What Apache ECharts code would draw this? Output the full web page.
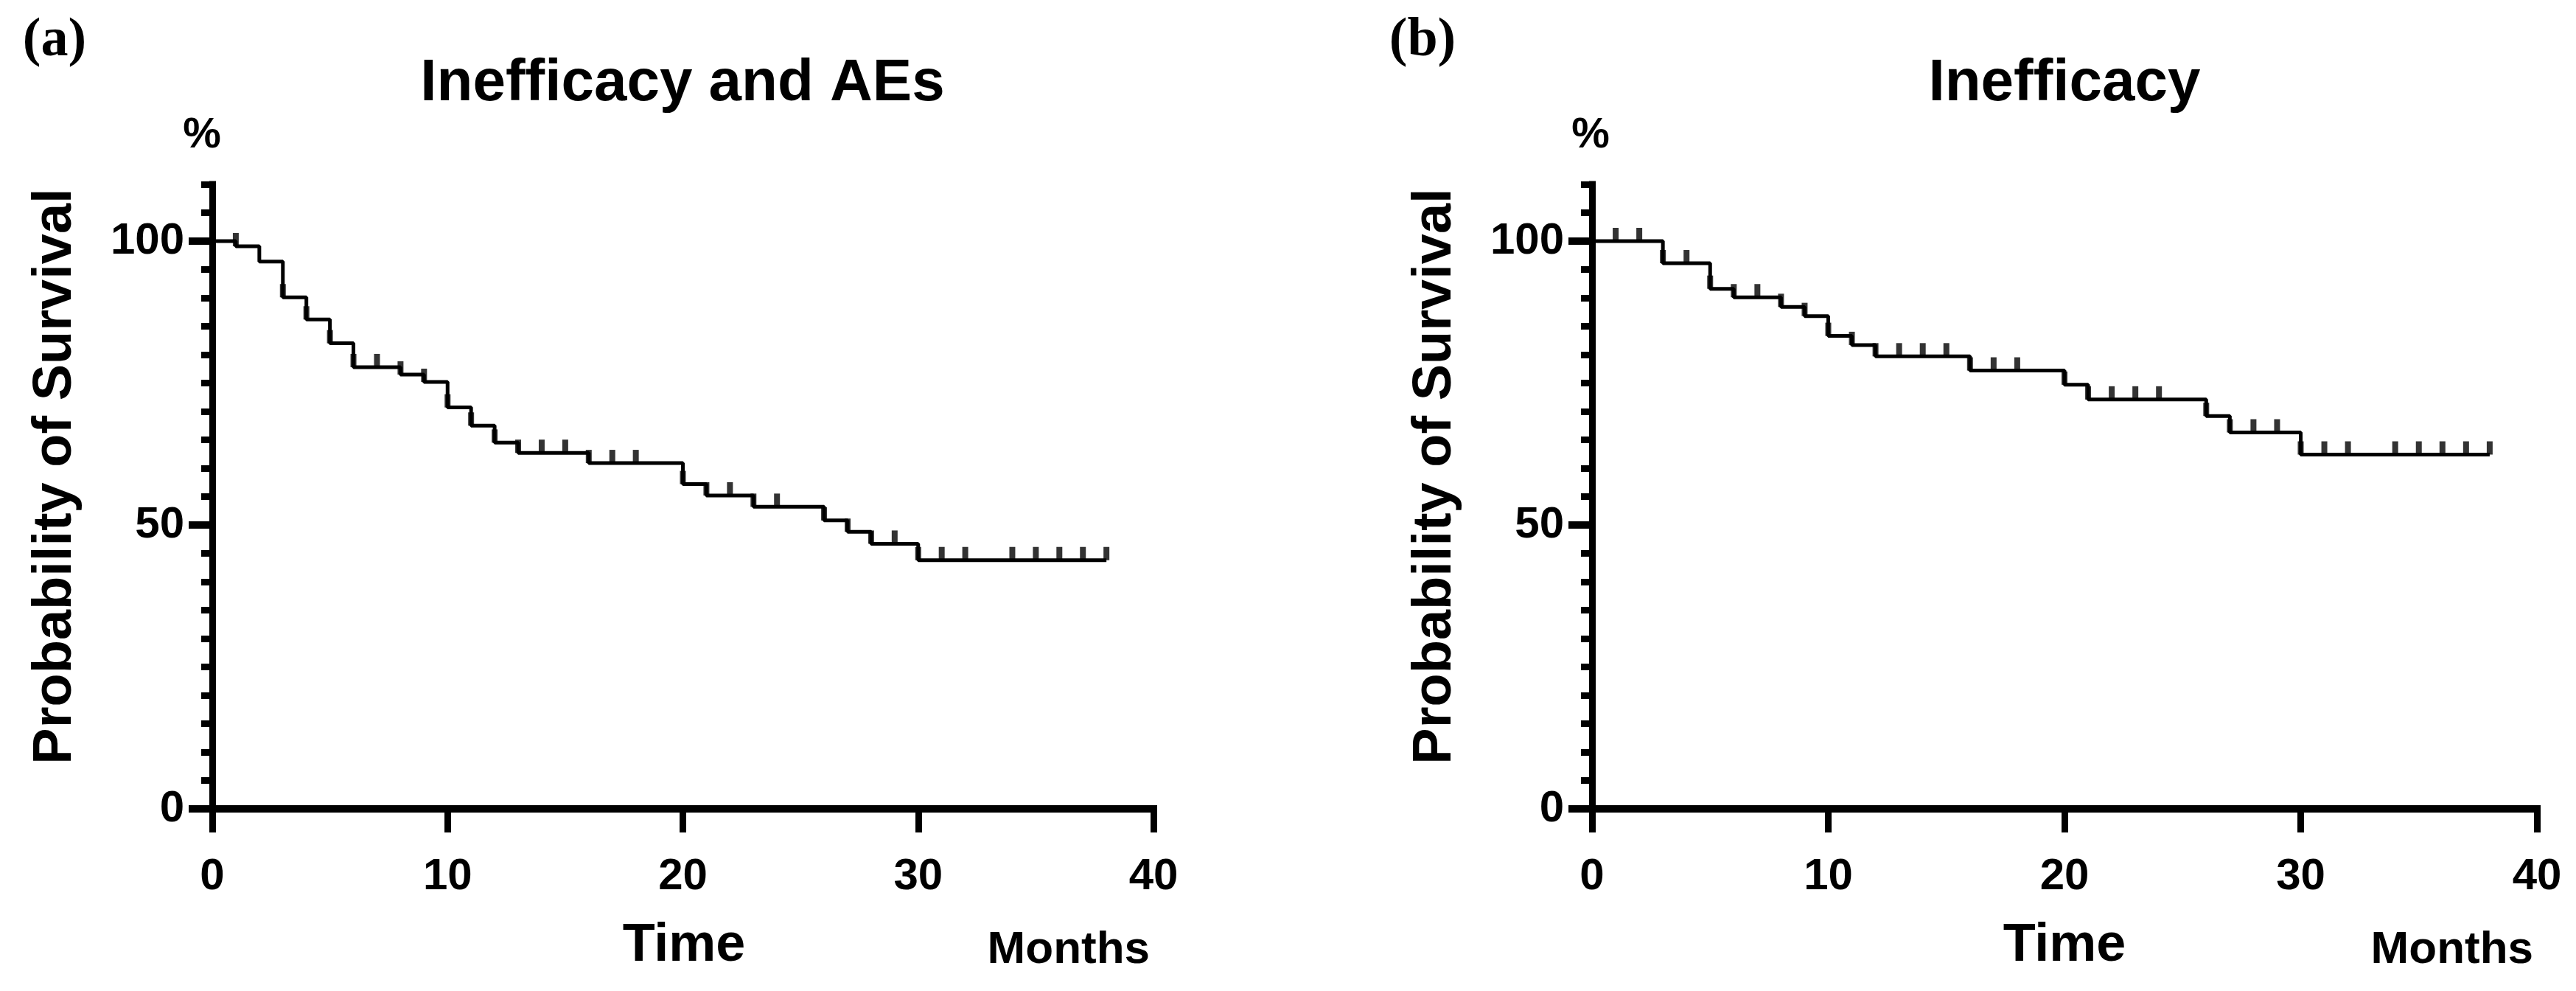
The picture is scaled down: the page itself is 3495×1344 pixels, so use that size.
<!DOCTYPE html>
<html><head><meta charset="utf-8">
<script src="https://cdn.jsdelivr.net/npm/echarts@6/dist/echarts.min.js"></script>
<style>html,body{margin:0;padding:0;background:#fff}#c{width:3495px;height:1344px}</style>
</head><body><div id="c"></div>
<script>
// ---- data ----
const xTicks = [0, 10, 20, 30, 40];
const yMajorTicks = [0, 50, 100];
const panelLabels = ['(a)', '(b)'];
const titles = ['Inefficacy and AEs', 'Inefficacy'];
const yName = 'Probability of Survival';
const xName = 'Time';
const xUnit = 'Months';
const yUnit = '%';
// Kaplan-Meier steps: [month, survival %]
const stepsA = [[0,100],[1,99.1],[2,96.4],[3,90.1],[4,86.2],[5,82.0],[6,77.8],[8,76.5],[9,75.2],[10,70.7],[11,67.5],[12,64.5],[13,62.7],[16,60.9],[20,57.2],[21,55.2],[23,53.2],[26,50.8],[27,48.8],[28,46.7],[30,43.8],[38,43.8]];
const censorA = [1,3,4,5,6,7,8,9,10,11,12,13,14,15,16,17,18,20,21,22,23,24,26,27,28,29,30,31,32,34,35,36,37,38];
const stepsB = [[0,100],[3,96.1],[5,91.6],[6,90.1],[8,88.4],[9,86.8],[10,83.3],[11,81.7],[12,79.7],[16,77.2],[20,74.7],[21,72.1],[26,69.2],[27,66.3],[30,62.4],[38,62.4]];
const censorB = [1,2,3,4,5,6,7,8,9,10,11,12,13,14,15,16,17,18,20,21,22,23,24,26,27,28,29,30,31,32,34,35,36,37,38];

function levelAt(steps, t) {
  let v = steps[0][1];
  for (const s of steps) { if (s[0] <= t) v = s[1]; }
  return v;
}

const FONT = '"Liberation Sans", Arial, sans-serif';
const chart = echarts.init(document.getElementById('c'), null, {renderer: 'canvas'});

const grids = [
  {left: 288, top: 250, width: 1277, height: 847},
  {left: 2160, top: 250, width: 1282, height: 847}
];

function xAxisDef(gi) {
  return {
    type: 'value', gridIndex: gi, min: 0, max: 40, interval: 10,
    axisLine: {show: true, lineStyle: {color: '#000', width: 10, cap: 'square'}},
    axisTick: {show: true, length: 32, lineStyle: {color: '#000', width: 9}},
    axisLabel: {show: true, margin: 62, color: '#000', fontSize: 60, fontWeight: 'bold', fontFamily: FONT,
      customValues: xTicks},
    splitLine: {show: false}
  };
}
function yMajorDef(gi) {
  return {
    type: 'value', gridIndex: gi, position: 'left', min: 0, max: 110,
    axisLine: {show: true, lineStyle: {color: '#000', width: 9, cap: 'square'}},
    axisTick: {show: true, length: 32, customValues: yMajorTicks, lineStyle: {color: '#000', width: 10}},
    axisLabel: {show: true, margin: 38, customValues: yMajorTicks, color: '#000', fontSize: 60, fontWeight: 'bold', fontFamily: FONT},
    splitLine: {show: false}
  };
}
function yMinorDef(gi) {
  return {
    type: 'value', gridIndex: gi, position: 'left', offset: 0, min: 0, max: 110, interval: 5,
    axisLine: {show: false},
    axisTick: {show: true, length: 15, lineStyle: {color: '#000', width: 9}},
    axisLabel: {show: false},
    splitLine: {show: false}
  };
}

function kmSeries(steps, censor, xi, yi) {
  return [
    {type: 'line', step: 'end', xAxisIndex: xi, yAxisIndex: yi, data: steps, symbol: 'none',
      lineStyle: {color: '#000', width: 5}, z: 3},
    {type: 'scatter', xAxisIndex: xi, yAxisIndex: yi, data: censor.map(t => [t, levelAt(steps, t)]),
      symbol: 'rect', symbolSize: [8, 18], symbolOffset: [0, -9], itemStyle: {color: '#000'}, z: 4}
  ];
}

function txt(text, x, y, size, opts) {
  opts = opts || {};
  return {
    type: 'text', x: x, y: y, rotation: opts.rotation || 0, z: 10,
    style: {
      text: text, fill: '#000',
      font: 'bold ' + size + 'px ' + (opts.family || FONT),
      align: opts.align || 'center', verticalAlign: 'middle',
      textAlign: opts.align || 'center', textVerticalAlign: 'middle'
    }
  };
}

const SERIF = '"Liberation Serif", "DejaVu Serif", serif';
const graphics = [
  txt(panelLabels[0], 74, 56, 74, {family: SERIF}),
  txt(titles[0], 926, 114, 80),
  txt(yUnit, 274, 184, 58),
  txt(yName, 76, 646, 74, {rotation: Math.PI / 2}),
  txt(xName, 928, 1283, 72),
  txt(xUnit, 1560, 1289, 62, {align: 'right'}),
  txt(panelLabels[1], 1930, 56, 74, {family: SERIF}),
  txt(titles[1], 2801, 114, 80),
  txt(yUnit, 2158, 184, 58),
  txt(yName, 1948, 646, 74, {rotation: Math.PI / 2}),
  txt(xName, 2801, 1283, 72),
  txt(xUnit, 3437, 1289, 62, {align: 'right'})
];

chart.setOption({
  animation: false,
  backgroundColor: '#fff',
  grid: grids,
  xAxis: [xAxisDef(0), xAxisDef(1)],
  yAxis: [yMajorDef(0), yMinorDef(0), yMajorDef(1), yMinorDef(1)],
  series: [].concat(kmSeries(stepsA, censorA, 0, 0), kmSeries(stepsB, censorB, 1, 2)),
  graphic: graphics
});
</script>
</body></html>
